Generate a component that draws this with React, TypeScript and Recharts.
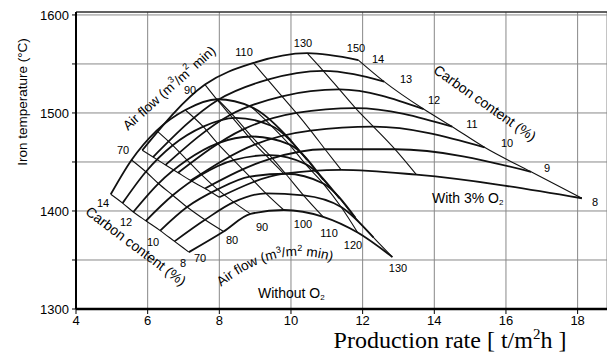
import React from "react";
import {
    ComposedChart,
    Line,
    XAxis,
    YAxis,
    CartesianGrid,
    ReferenceLine,
} from "recharts";

// carbon content rows (%) and air flow columns (m3/m2 min)
const carbon = [14, 13, 12, 11, 10, 9, 8];
const airNoO2 = [70, 80, 90, 100, 110, 120, 130];
const airO2 = [70, 90, 110, 130, 150];

// grid nodes without O2: production rate (t/m2h) and iron temperature (C)
const noO2Rate = [
    [4.97, 5.55, 6.25, 7.05, 7.95, 8.9, 10.0],
    [5.3, 5.95, 6.7, 7.55, 8.45, 9.45, 10.45],
    [5.6, 6.3, 7.1, 7.95, 8.9, 9.95, 10.9],
    [5.95, 6.7, 7.5, 8.4, 9.4, 10.4, 11.35],
    [6.35, 7.1, 7.95, 8.85, 9.85, 10.9, 11.8],
    [6.75, 7.6, 8.4, 9.3, 10.35, 11.4, 12.3],
    [7.15, 8.12, 8.87, 9.8, 10.9, 11.86, 12.83],
];
const noO2Temp = [
    [1417, 1452, 1482, 1503, 1514, 1506, 1472],
    [1408, 1440, 1467, 1486, 1495, 1487, 1452],
    [1399, 1428, 1452, 1469, 1476, 1468, 1432],
    [1390, 1416, 1437, 1452, 1457, 1448, 1413],
    [1380, 1404, 1422, 1435, 1438, 1428, 1393],
    [1369, 1391, 1409, 1418, 1416, 1404, 1373],
    [1358, 1379, 1397, 1401, 1394, 1378, 1353],
];

// grid nodes with 3% O2
const o2Rate = [
    [5.85, 7.6, 8.95, 10.45, 11.88],
    [6.15, 7.95, 9.35, 10.9, 12.6],
    [6.5, 8.3, 9.75, 11.35, 13.7],
    [6.85, 8.65, 10.15, 11.8, 14.5],
    [7.2, 9.0, 10.55, 12.3, 15.4],
    [7.6, 9.4, 10.95, 12.9, 16.7],
    [8.0, 9.8, 11.4, 13.5, 18.12],
];
const o2Temp = [
    [1462, 1529, 1551, 1561, 1554],
    [1455, 1513, 1534, 1543, 1532],
    [1447, 1498, 1517, 1524, 1504],
    [1439, 1483, 1500, 1505, 1486],
    [1431, 1468, 1482, 1486, 1465],
    [1423, 1453, 1463, 1463, 1440],
    [1414, 1438, 1442, 1437, 1413],
];

const xTicks = [4, 6, 8, 10, 12, 14, 16, 18];
const yTicks = [1300, 1350, 1400, 1450, 1500, 1550, 1600];

const sans = "'Liberation Sans', Arial, sans-serif";

function buildNet(rate: number[][], temp: number[][], air: number[], tag: string) {
    const lines: { key: string; pts: { x: number; y: number }[]; kind: string }[] = [];
    carbon.forEach((c, i) => {
        lines.push({
            key: `${tag}-c${c}`,
            kind: "carbon",
            pts: air.map((_, j) => ({ x: rate[i][j], y: temp[i][j] })),
        });
    });
    air.forEach((a, j) => {
        lines.push({
            key: `${tag}-a${a}`,
            kind: "air",
            pts: carbon.map((_, i) => ({ x: rate[i][j], y: temp[i][j] })),
        });
    });
    return lines;
}

const allLines = [
    ...buildNet(noO2Rate, noO2Temp, airNoO2, "n"),
    ...buildNet(o2Rate, o2Temp, airO2, "o"),
];

function Num({ x, y, t }: { x: number; y: number; t: string }) {
    return (
        <text x={x} y={y} fontSize={11} fill="#000" textAnchor="middle" dominantBaseline="central">
            {t}
        </text>
    );
}

export default function App() {
    return (
        <div style={{ position: "absolute", left: 0, top: 0, width: 607, height: 356, background: "#fff" }}>
            <ComposedChart width={607} height={356} margin={{ top: 12, right: 0, left: 6, bottom: 17 }}>
                <CartesianGrid stroke="#888" strokeWidth={1} />
                <XAxis
                    type="number"
                    dataKey="x"
                    domain={[4, 18.82]}
                    allowDataOverflow
                    ticks={xTicks}
                    height={30}
                    tickSize={5}
                    tickMargin={2}
                    axisLine={{ stroke: "#000", strokeWidth: 2.5 }}
                    tickLine={{ stroke: "#000" }}
                    tick={{ fill: "#000", fontSize: 13, fontFamily: sans }}
                />
                <YAxis
                    type="number"
                    dataKey="y"
                    domain={[1300, 1603]}
                    allowDataOverflow
                    ticks={yTicks}
                    width={70}
                    tickSize={4}
                    tickMargin={3}
                    tickFormatter={(v: number) => (v % 100 === 0 ? String(v) : "")}
                    axisLine={{ stroke: "#000", strokeWidth: 2 }}
                    tickLine={{ stroke: "#000" }}
                    tick={{ fill: "#000", fontSize: 13, fontFamily: sans }}
                />
                <ReferenceLine y={1603} stroke="#000" strokeWidth={1.2} />
                {allLines.map((l) => (
                    <Line
                        key={l.key}
                        data={l.pts}
                        dataKey="y"
                        type="monotone"
                        stroke="#111"
                        strokeWidth={l.kind === "carbon" ? 1.8 : 1.1}
                        dot={false}
                        activeDot={false}
                        isAnimationActive={false}
                    />
                ))}
            </ComposedChart>
            <svg
                width={607}
                height={356}
                style={{ position: "absolute", left: 0, top: 0, pointerEvents: "none" }}
                fontFamily={sans}
            >
                <defs>
                    <path id="afLow" d="M 221 287 Q 285 235 354 270" />
                </defs>
                <text x={22} y={102} fontSize={13.5} fill="#000" textAnchor="middle" dominantBaseline="central" transform="rotate(-90 22 102)">
                    Iron temperature (°C)
                </text>
                <text x={450} y={348} fontSize={24} fill="#000" textAnchor="middle" fontFamily="'Liberation Serif', 'Times New Roman', serif">
                    Production rate [ t/m<tspan dy={-9} fontSize={15}>2</tspan>
                    <tspan dy={9}>h ]</tspan>
                </text>

                {/* with O2 net labels */}
                <text x={169} y={88} fontSize={13.5} fill="#000" textAnchor="middle" dominantBaseline="central" transform="rotate(-42 169 88)">
                    Air flow (m<tspan dy={-5} fontSize={9}>3</tspan>
                    <tspan dy={5}>/m</tspan>
                    <tspan dy={-5} fontSize={9}>2</tspan>
                    <tspan dy={5}> min)</tspan>
                </text>
                <Num x={123} y={150} t="70" />
                <Num x={190} y={90} t="90" />
                <Num x={244} y={52} t="110" />
                <Num x={303} y={43} t="130" />
                <Num x={356} y={48} t="150" />
                <Num x={378} y={59} t="14" />
                <Num x={406} y={79} t="13" />
                <Num x={434} y={100} t="12" />
                <Num x={472} y={124} t="11" />
                <Num x={507} y={143} t="10" />
                <Num x={547} y={168} t="9" />
                <Num x={595} y={202} t="8" />
                <text x={485} y={103} fontSize={14} fill="#000" textAnchor="middle" dominantBaseline="central" transform="rotate(35 485 103)">
                    Carbon content (%)
                </text>
                <text x={432} y={203} fontSize={14} fill="#000">
                    With 3% O<tspan dy={2} fontSize={8}>2</tspan>
                </text>

                {/* without O2 net labels */}
                <text x={136} y={246} fontSize={14} fill="#000" textAnchor="middle" dominantBaseline="central" transform="rotate(37 136 246)">
                    Carbon content (%)
                </text>
                <Num x={103} y={203} t="14" />
                <Num x={126} y={222} t="12" />
                <Num x={153} y={242} t="10" />
                <Num x={183} y={263} t="8" />
                <Num x={200} y={258} t="70" />
                <Num x={232} y={240} t="80" />
                <Num x={262} y={227} t="90" />
                <Num x={303} y={224} t="100" />
                <Num x={329} y={233} t="110" />
                <Num x={353} y={245} t="120" />
                <Num x={398} y={268} t="130" />
                <text fontSize={13.5} fill="#000">
                    <textPath href="#afLow">
                        Air flow (m<tspan dy={-5} fontSize={9}>3</tspan>
                        <tspan dy={5}>/m</tspan>
                        <tspan dy={-5} fontSize={9}>2</tspan>
                        <tspan dy={5}> min)</tspan>
                    </textPath>
                </text>
                <text x={258} y={298} fontSize={14} fill="#000">
                    Without O<tspan dy={2} fontSize={8}>2</tspan>
                </text>
            </svg>
        </div>
    );
}
